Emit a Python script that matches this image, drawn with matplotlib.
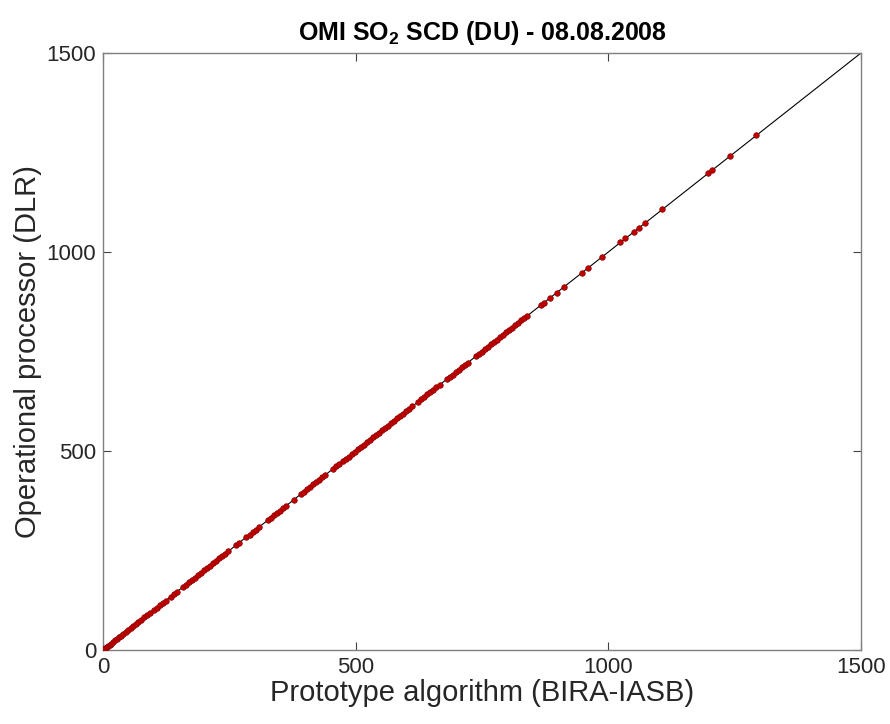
import matplotlib.pyplot as plt

plt.rcParams['font.family'] = ['Liberation Sans', 'DejaVu Sans']
plt.rcParams['mathtext.fontset'] = 'custom'
plt.rcParams['mathtext.rm'] = 'Liberation Sans'
plt.rcParams['mathtext.bf'] = 'Liberation Sans:bold'

# SO2 slant columns (DU): prototype (BIRA-IASB) vs operational (DLR)
bira = [0, 2, 4, 7, 10, 13, 16, 20, 24, 28, 32, 36, 40, 45, 50, 55, 60, 65, 70, 76,
        82, 88, 94, 100, 106, 112, 118, 124, 134, 140, 146, 158, 164, 170, 176, 182,
        188, 194, 200, 206, 212, 218, 224, 230, 236, 242, 248, 264, 270, 284, 290,
        296, 302, 308, 326, 332, 338, 344, 350, 356, 362, 378, 392, 398, 404, 410,
        416, 422, 428, 434, 440, 456, 462, 468, 474, 480, 486, 492, 498, 504, 510,
        516, 522, 528, 534, 540, 546, 552, 558, 564, 570, 576, 582, 588, 594, 600,
        606, 612, 624, 630, 636, 642, 648, 654, 660, 666, 680, 686, 692, 698, 704,
        710, 716, 722, 738, 744, 750, 756, 762, 768, 774, 780, 786, 792, 798, 804,
        810, 816, 822, 828, 834, 840, 866, 872, 884, 898, 912, 948, 960, 988, 1024,
        1034, 1050, 1061, 1073, 1107, 1198, 1206, 1241, 1293]
dlr = [0, 2, 4, 7, 10, 13, 16, 20, 24, 28, 32, 36, 40, 45, 50, 55, 60, 65, 70, 76,
       82, 88, 94, 100, 106, 112, 118, 124, 134, 140, 146, 158, 164, 170, 176, 182,
       188, 194, 200, 206, 212, 218, 224, 230, 236, 242, 248, 264, 270, 284, 290,
       296, 302, 308, 326, 332, 338, 344, 350, 356, 362, 378, 392, 398, 404, 410,
       416, 422, 428, 434, 440, 456, 462, 468, 474, 480, 486, 492, 498, 504, 510,
       516, 522, 528, 534, 540, 546, 552, 558, 564, 570, 576, 582, 588, 594, 600,
       606, 612, 624, 630, 636, 642, 648, 654, 660, 666, 680, 686, 692, 698, 704,
       710, 716, 722, 738, 744, 750, 756, 762, 768, 774, 780, 786, 792, 798, 804,
       810, 816, 822, 828, 834, 840, 866, 872, 884, 898, 912, 948, 960, 988, 1024,
       1034, 1050, 1061, 1073, 1107, 1198, 1206, 1241, 1293]
limits = [0, 1500]
ticks = [0, 500, 1000, 1500]

fig = plt.figure(figsize=(8.9, 7.24), dpi=100)
ax = fig.add_axes([0.1157, 0.1022, 0.8517, 0.8246])

ax.plot(limits, limits, color='k', lw=0.8, zorder=2)
ax.plot(bira, dlr, linestyle='none', marker='o', ms=4, color='#c00000',
        mec='#8a0000', mew=0.5, zorder=3)

ax.set_xlim(limits)
ax.set_ylim(limits)
ax.set_xticks(ticks)
ax.set_yticks(ticks)
ax.tick_params(direction='in', top=True, right=True, length=6, width=0.8,
               color='#404040', labelsize=16, labelcolor='#262626', pad=5)
for s in ax.spines.values():
    s.set_color('#808080')
    s.set_linewidth(1.0)

ax.set_xlabel('Prototype algorithm (BIRA-IASB)', fontsize=21, color='#262626', labelpad=1)
ax.set_ylabel('Operational processor (DLR)', fontsize=21, color='#262626', labelpad=3)
ax.set_title(r'OMI SO$_\mathbf{2}$ SCD (DU) - 08.08.2008', fontsize=18,
             fontweight='bold', pad=9)

fig.savefig('out.png', dpi=100)
